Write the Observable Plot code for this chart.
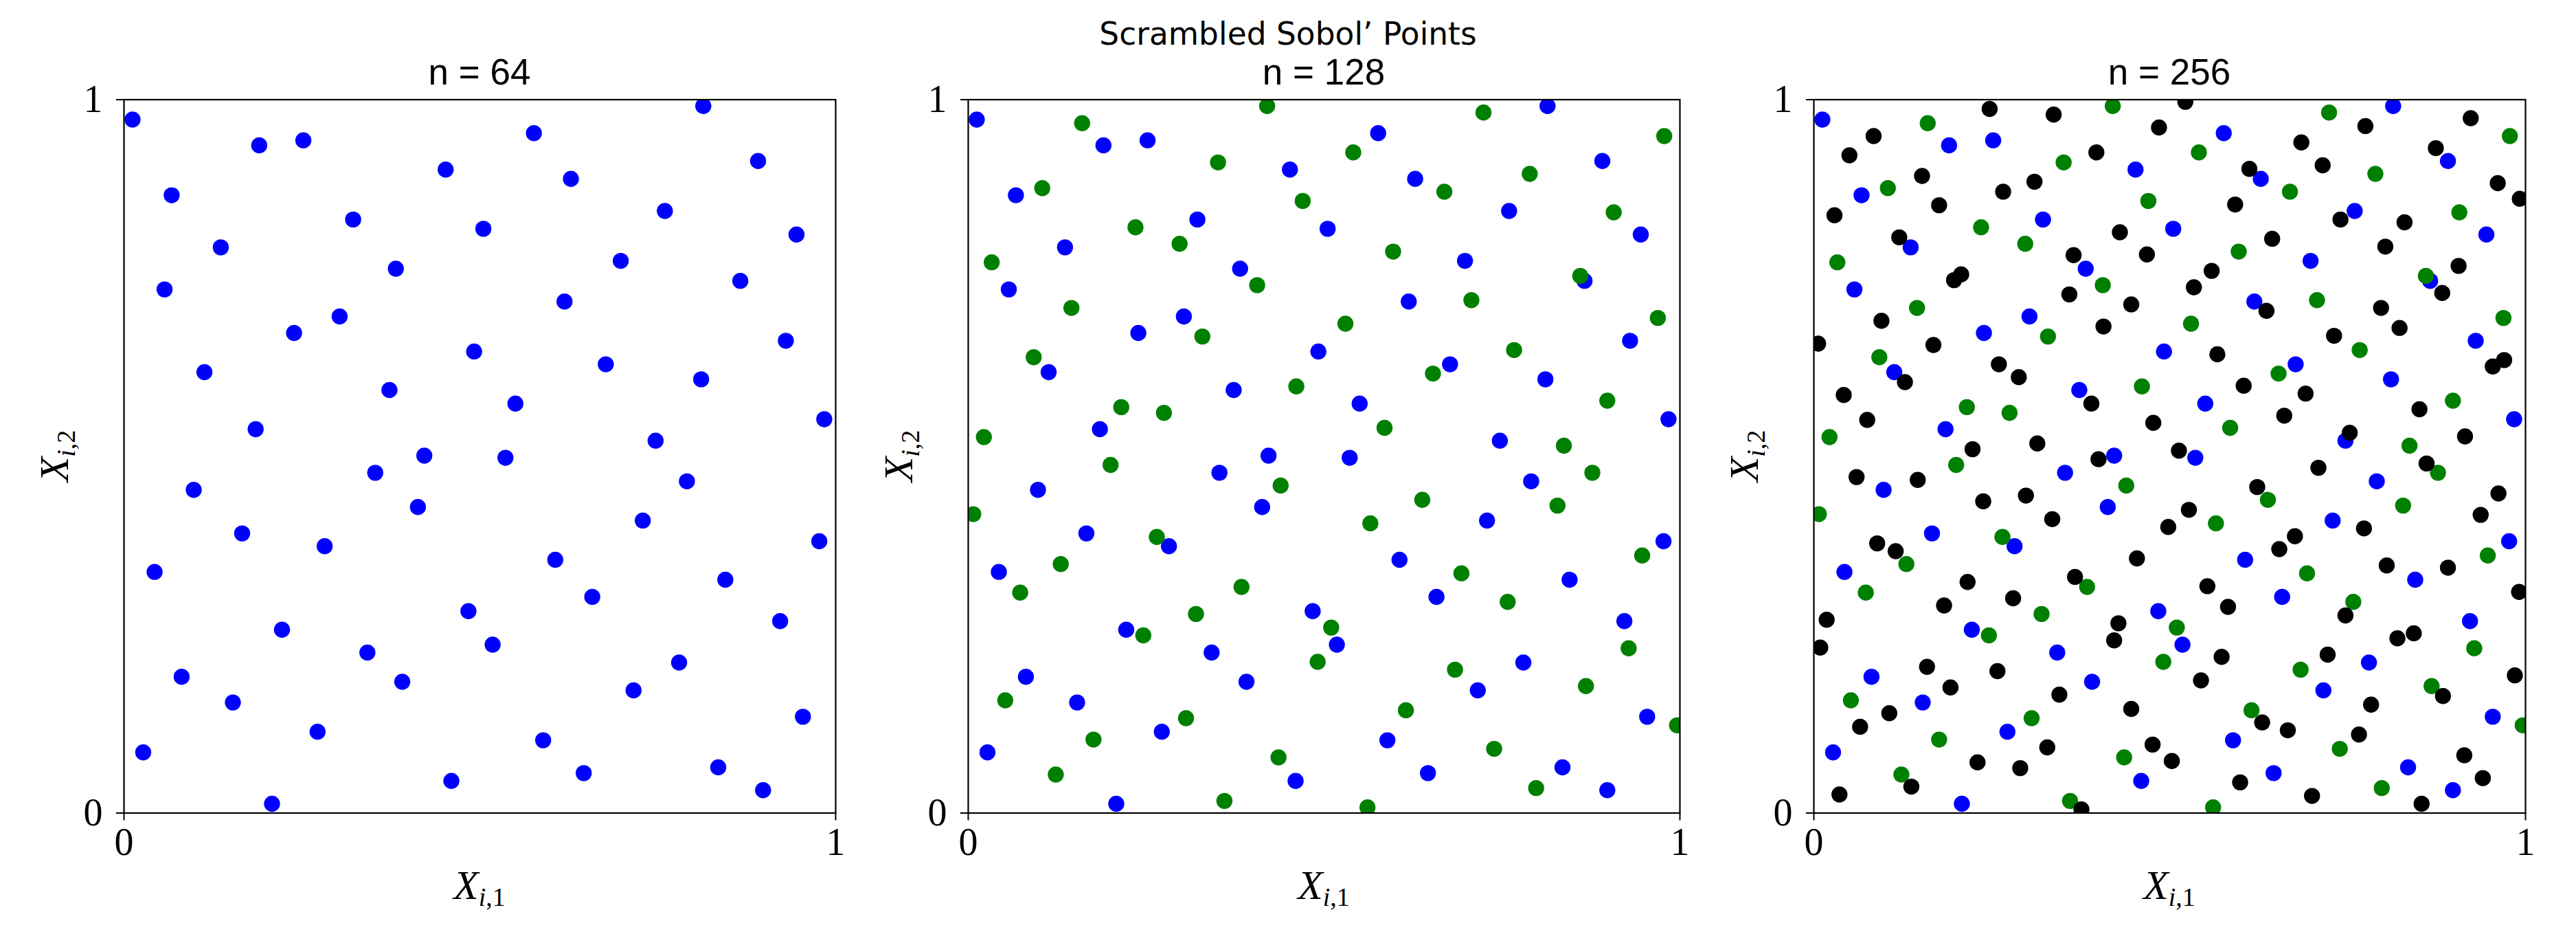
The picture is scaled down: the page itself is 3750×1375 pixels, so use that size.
<!DOCTYPE html>
<html>
<head>
<meta charset="utf-8">
<script src="https://cdn.jsdelivr.net/npm/d3@7"></script>
<script src="https://cdn.jsdelivr.net/npm/@observablehq/plot@0.6"></script>
<style>
  html, body { margin: 0; padding: 0; background: #ffffff; }
  #fig { position: relative; width: 3750px; height: 1375px; background: #ffffff; overflow: hidden; }
  #suptitle { position: absolute; left: 0; top: 27px; width: 3750px; text-align: center;
              font-family: "DejaVu Sans", sans-serif; font-size: 45.5px; line-height: 45.5px; color: #000; }
  .panel { position: absolute; top: 80px; }
</style>
</head>
<body>
<div id="fig">
  <div id="suptitle">Scrambled Sobol’ Points</div>
</div>
<script>
// ---------- data ----------
const panelTitles = ["n = 64", "n = 128", "n = 256"];
const tickValues = [0, 1];

// first 64 points (blue)
const blueX = [0.012,0.190,0.252,0.576,0.814,0.891,0.452,0.628,0.067,0.760,0.322,0.505,0.945,0.136,0.382,0.698,0.057,0.866,0.619,0.303,0.239,0.930,0.492,0.677,0.113,0.811,0.373,0.550,0.984,0.185,0.747,0.422,0.536,
               0.353,0.098,0.791,0.413,0.729,0.166,0.282,0.977,0.043,0.606,0.845,0.658,0.484,0.922,0.222,0.518,0.342,0.780,0.081,0.391,0.716,0.153,0.954,0.272,0.589,0.027,0.646,0.835,0.460,0.898,0.208];
const blueY = [0.972,0.936,0.943,0.953,0.991,0.914,0.902,0.889,0.866,0.844,0.832,0.819,0.811,0.793,0.763,0.774,0.734,0.746,0.717,0.696,0.673,0.662,0.647,0.629,0.618,0.608,0.593,0.574,0.552,0.538,0.522,0.501,0.498,
               0.477,0.453,0.465,0.429,0.410,0.392,0.374,0.381,0.338,0.355,0.327,0.303,0.283,0.269,0.257,0.236,0.225,0.211,0.191,0.184,0.172,0.155,0.135,0.114,0.102,0.085,0.056,0.064,0.045,0.032,0.013];

// points 65-128 (green)
const greenX = [0.420,0.724,0.160,0.978,0.541,0.351,0.789,0.104,0.669,0.470,0.907,0.235,0.297,0.597,0.033,0.860,0.406,0.145,0.707,0.530,0.969,0.329,0.092,0.767,0.653,0.461,0.215,0.275,0.898,0.585,0.022,0.837,0.200,
                0.877,0.439,0.638,0.828,0.007,0.565,0.265,0.947,0.130,0.693,0.073,0.384,0.758,0.320,0.510,0.246,0.928,0.491,0.684,0.868,0.052,0.615,0.306,0.996,0.176,0.739,0.436,0.123,0.798,0.360,0.561];
const greenY = [0.991,0.982,0.967,0.949,0.926,0.912,0.896,0.876,0.871,0.858,0.842,0.821,0.798,0.787,0.772,0.753,0.740,0.708,0.719,0.686,0.694,0.668,0.639,0.649,0.616,0.598,0.569,0.561,0.578,0.540,0.527,0.515,0.488,
                0.477,0.459,0.439,0.431,0.419,0.406,0.387,0.361,0.349,0.336,0.309,0.317,0.296,0.279,0.260,0.249,0.231,0.212,0.201,0.178,0.158,0.144,0.133,0.123,0.103,0.090,0.078,0.054,0.035,0.017,0.008];

// points 129-256 (black)
const blackX = [0.247,0.337,0.485,0.084,0.050,0.397,0.152,0.310,0.266,0.176,0.029,0.430,0.120,0.365,0.468,0.207,0.197,0.359,0.446,0.095,0.407,0.006,0.168,0.260,0.288,0.128,0.042,0.390,0.075,0.477,0.314,0.223,0.400,
                0.522,0.775,0.923,0.685,0.874,0.715,0.612,0.961,0.992,0.592,0.740,0.830,0.644,0.803,0.559,0.534,0.906,0.883,0.636,0.797,0.823,0.731,0.567,0.970,0.954,0.604,0.691,0.661,0.851,0.753,0.915,0.513,
                0.060,0.146,0.238,0.298,0.335,0.498,0.089,0.115,0.454,0.367,0.216,0.280,0.183,0.018,0.428,0.422,0.009,0.159,0.258,0.192,0.345,0.446,0.106,0.065,0.328,0.476,0.503,0.230,0.290,0.137,0.036,0.376,
                0.861,0.709,0.623,0.527,0.676,0.654,0.773,0.962,0.937,0.805,0.891,0.991,0.553,0.582,0.747,0.820,0.843,0.722,0.573,0.544,0.985,0.884,0.783,0.630,0.666,0.766,0.914,0.599,0.940,0.700,0.854];
const blackY = [0.987,0.979,0.961,0.949,0.922,0.926,0.893,0.885,0.871,0.852,0.838,0.814,0.807,0.782,0.783,0.755,0.747,0.727,0.713,0.690,0.682,0.658,0.656,0.629,0.611,0.604,0.586,0.574,0.551,0.547,0.518,0.510,0.496,
                0.997,0.963,0.974,0.940,0.932,0.908,0.903,0.883,0.861,0.853,0.832,0.828,0.805,0.794,0.760,0.737,0.767,0.729,0.704,0.708,0.680,0.669,0.643,0.635,0.626,0.599,0.588,0.557,0.566,0.533,0.528,0.508,
                0.471,0.467,0.437,0.445,0.412,0.401,0.378,0.367,0.357,0.331,0.324,0.301,0.291,0.271,0.266,0.242,0.232,0.205,0.199,0.176,0.166,0.146,0.140,0.121,0.092,0.096,0.073,0.071,0.063,0.037,0.026,0.005,
                0.490,0.484,0.457,0.425,0.388,0.370,0.399,0.448,0.418,0.347,0.344,0.310,0.318,0.289,0.277,0.245,0.252,0.222,0.219,0.186,0.193,0.164,0.152,0.127,0.116,0.110,0.081,0.043,0.049,0.024,0.013];

const seriesColors = ["#0000ff", "#008000", "#000000"];

// ---------- tables ----------
const toPts = (xs, ys) => xs.map((x, i) => ({x, y: ys[i]}));
const blue = toPts(blueX, blueY);
const green = toPts(greenX, greenY);
const black = toPts(blackX, blackY);
const panelSets = [[blue], [blue, green], [blue, green, black]];

// ---------- layout ----------
const frameLefts = [180, 1409, 2640];
const frameW = 1036, frameH = 1038;
const mL = 150, mR = 30, mT = 64.5;
const svgH = 1295;
const mB = svgH - mT - frameH;
const fig = document.getElementById("fig");

panelSets.forEach((sets, p) => {
  const marks = [];
  sets.forEach((pts, k) => {
    marks.push(Plot.dot(pts, {x: "x", y: "y", r: 11.7, fill: seriesColors[k], stroke: null, clip: true}));
  });
  marks.push(Plot.frame({stroke: "#000", strokeWidth: 2.2}));
  marks.push(Plot.axisX({ticks: tickValues, tickFormat: d => String(d), tickSize: 11, tickPadding: 10, strokeWidth: 2, label: null}));
  marks.push(Plot.axisY({ticks: tickValues, tickFormat: d => String(d), tickSize: 11, tickPadding: 20, strokeWidth: 2, label: null}));

  const svg = Plot.plot({
    width: mL + frameW + mR,
    height: svgH,
    marginLeft: mL, marginRight: mR, marginTop: mT, marginBottom: mB,
    x: {domain: [0, 1]},
    y: {domain: [0, 1]},
    style: {fontFamily: "'Liberation Serif', 'DejaVu Serif', serif", fontSize: "56px", color: "#000", background: "#fff", overflow: "visible"},
    marks
  });

  const s = d3.select(svg);
  // subplot title
  s.append("text")
    .attr("x", mL + frameW / 2).attr("y", 43)
    .attr("text-anchor", "middle")
    .attr("font-family", "'Liberation Sans', Arial, sans-serif")
    .attr("font-size", 53).attr("fill", "#000")
    .text(panelTitles[p]);

  // x label  X_{i,1}
  const xl = s.append("text")
    .attr("x", mL + frameW / 2).attr("y", mT + frameH + 125)
    .attr("text-anchor", "middle")
    .attr("font-family", "'Liberation Serif', 'DejaVu Serif', serif")
    .attr("font-size", 60).attr("fill", "#000");
  xl.append("tspan").attr("font-style", "italic").text("X");
  xl.append("tspan").attr("font-style", "italic").attr("font-size", 38).attr("dy", 10).text("i");
  xl.append("tspan").attr("font-size", 38).text(",1");

  // y label  X_{i,2}
  const yl = s.append("text")
    .attr("transform", `translate(${mL - 81},${mT + frameH / 2}) rotate(-90)`)
    .attr("text-anchor", "middle")
    .attr("font-family", "'Liberation Serif', 'DejaVu Serif', serif")
    .attr("font-size", 60).attr("fill", "#000");
  yl.append("tspan").attr("font-style", "italic").text("X");
  yl.append("tspan").attr("font-style", "italic").attr("font-size", 38).attr("dy", 10).text("i");
  yl.append("tspan").attr("font-size", 38).text(",2");

  svg.classList.add("panel");
  svg.style.left = (frameLefts[p] - mL) + "px";
  svg.style.top = "80px";
  svg.style.position = "absolute";
  fig.appendChild(svg);
});
</script>
</body>
</html>
